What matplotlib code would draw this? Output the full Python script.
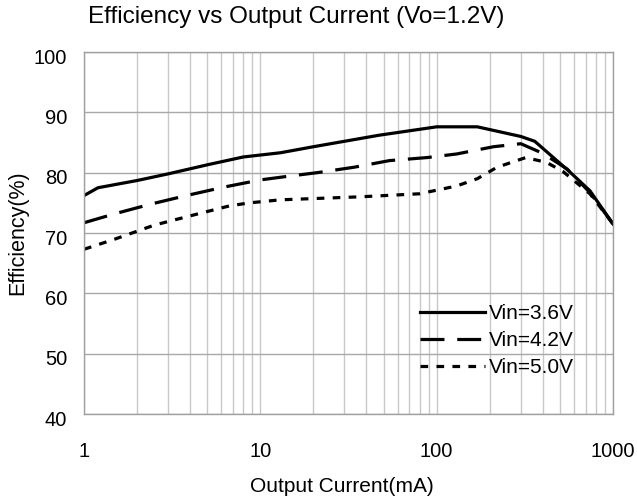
import numpy as np
import matplotlib.pyplot as plt
from matplotlib.ticker import LogLocator, NullFormatter, FixedLocator
from matplotlib.transforms import ScaledTranslation

plt.rcParams['font.family'] = ['Liberation Sans', 'DejaVu Sans']

# --- data (current in mA, efficiency in %) ---
i_36 = [1, 1.2, 2, 3, 5, 8, 13, 20, 47, 100, 170, 300, 360, 570, 740, 1000]
eff_36 = [76.2, 77.5, 78.7, 79.8, 81.3, 82.6, 83.3, 84.3, 86.2, 87.6, 87.6, 86.0, 85.2, 80.1, 77.0, 71.5]

i_42 = [1, 1.5, 2.4, 3.8, 6.2, 10, 13.5, 21, 34, 54, 88, 130, 210, 300, 400, 550, 740, 1000]
eff_42 = [71.7, 73.2, 74.8, 76.2, 77.6, 78.8, 79.3, 80.0, 80.9, 82.0, 82.5, 83.1, 84.3, 84.8, 83.2, 80.6, 76.7, 71.5]

i_50 = [1, 1.5, 2.5, 4.2, 6.7, 8.7, 13, 37, 80, 130, 170, 220, 320, 420, 520, 740, 1000]
eff_50 = [67.3, 69.0, 71.3, 73.0, 74.5, 75.0, 75.5, 76.0, 76.5, 77.8, 79.0, 80.9, 82.5, 81.7, 80.2, 76.5, 71.5]

labels = ['Vin=3.6V', 'Vin=4.2V', 'Vin=5.0V']

W, H = 637, 503
fig = plt.figure(figsize=(W / 100, H / 100), dpi=100)
ax = fig.add_axes([84 / W, 1 - 414 / H, 529 / W, 362 / H])

lw = 2.3
ax.plot(i_36, eff_36, color='black', linestyle='-', linewidth=lw, label=labels[0])
ax.plot(i_42, eff_42, color='black', linestyle=(0, (7.5, 4)), linewidth=lw, label=labels[1])
ax.plot(i_50, eff_50, color='black', linestyle=(0, (2.4, 2.6)), linewidth=lw, label=labels[2])

ax.set_xscale('log')
ax.set_xlim(1, 1000)
ax.set_ylim(40, 100)
ax.yaxis.set_major_locator(FixedLocator(np.arange(40, 101, 10)))
ax.xaxis.set_major_locator(FixedLocator([1, 10, 100, 1000]))
ax.set_xticklabels(['1', '10', '100', '1000'])
ax.xaxis.set_minor_locator(LogLocator(base=10, subs=np.arange(2, 10)))
ax.xaxis.set_minor_formatter(NullFormatter())

ax.grid(True, which='both', axis='x', color='#c8c8c8', linewidth=1)
ax.grid(True, which='major', axis='y', color='#a8a8a8', linewidth=1)
ax.set_axisbelow(True)
for s in ax.spines.values():
    s.set_color('#a0a0a0')
    s.set_linewidth(1)

ax.tick_params(which='both', length=0, labelsize=14.5, colors='black')
ax.tick_params(axis='x', pad=20)
ax.tick_params(axis='y', pad=12)
# y tick labels sit a little below their grid lines in the original
shift = ScaledTranslation(0, -3 / 72, fig.dpi_scale_trans)
for lab in ax.get_yticklabels():
    lab.set_transform(lab.get_transform() + shift)

fig.text(296 / W, 1 - 6 / H, 'Efficiency vs Output Current (Vo=1.2V)',
         fontsize=17.5, ha='center', va='top')
ax.set_xlabel('Output Current(mA)', fontsize=15)
ax.xaxis.set_label_coords((342 - 84) / 529, -(477 - 414) / 362)
ax.set_ylabel('Efficiency(%)', fontsize=15.5)
ax.yaxis.set_label_coords(-(84 - 28) / 529, 0.5)

ax.legend(loc='upper left', bbox_to_anchor=(420 / W, 1 - 304 / H),
          bbox_transform=fig.transFigure, frameon=False,
          fontsize=15, handlelength=3.1, handletextpad=0.2,
          labelspacing=0.38, borderpad=0, borderaxespad=0)

fig.savefig('out.png', dpi=100)
